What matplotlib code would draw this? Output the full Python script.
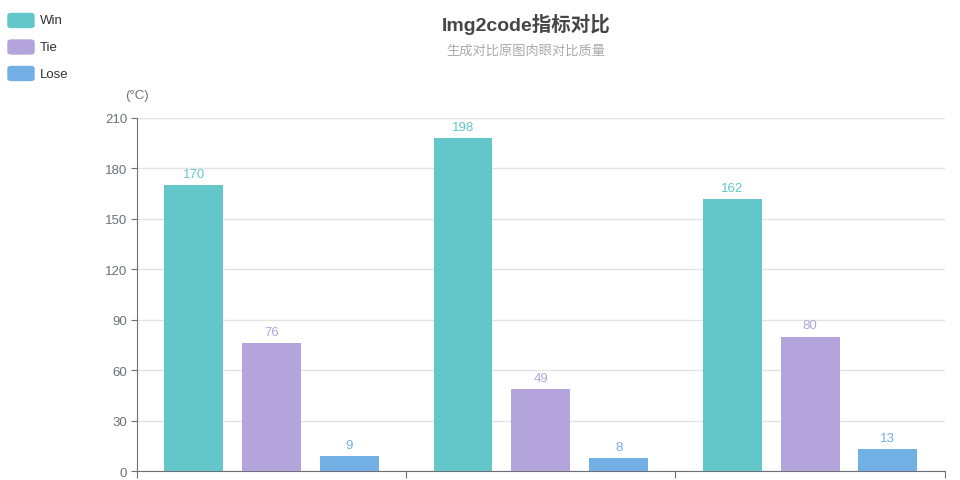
import matplotlib
matplotlib.use('Agg')
import matplotlib.pyplot as plt
import numpy as np
from matplotlib.patches import FancyBboxPatch

plt.rcParams['font.family'] = ['Liberation Sans', 'Noto Sans CJK SC', 'DejaVu Sans']

# data
categories = ['', '', '']
series = ['Win', 'Tie', 'Lose']
win = [170, 198, 162]
tie = [76, 49, 80]
lose = [9, 8, 13]
colors = ['#63c6c8', '#b3a5db', '#72afe4']
yticks = [0, 30, 60, 90, 120, 150, 180, 210]

fig = plt.figure(figsize=(9.6, 4.81), dpi=100)
ax = fig.add_axes([0.1427, 0.0187, 0.8413, 0.7339])

x = np.arange(len(categories))
w = 0.219
offs = [-0.289, 0, 0.289]
for vals, off, c in zip([win, tie, lose], offs, colors):
    bars = ax.bar(x + off, vals, width=w, color=c, zorder=3)
    for b, v in zip(bars, vals):
        ax.text(b.get_x() + b.get_width() / 2, v + 3, str(v), ha='center', va='bottom',
                color=c, fontsize=9.5, zorder=4)

ax.set_xlim(-0.5, 2.5)
ax.set_ylim(0, 210)
ax.set_yticks(yticks)
ax.set_xticks([-0.5, 0.5, 1.5, 2.5])
ax.set_xticklabels([])
ax.tick_params(axis='x', length=5, color='#6e7079', direction='out')
ax.tick_params(axis='y', length=4, color='#6e7079', labelcolor='#6e7079', labelsize=9.5, pad=3)
ax.grid(axis='y', color='#e3e3e3', linewidth=1, zorder=0)
for s in ['top', 'right']:
    ax.spines[s].set_visible(False)
ax.spines['left'].set_color('#6e7079')
ax.spines['bottom'].set_color('#6e7079')

fig.text(137 / 960, 1 - 96 / 481, '(°C)', ha='center', va='center', color='#6e7079', fontsize=9.5)

# title
fig.text(526 / 960, 1 - 24 / 481, 'Img2code指标对比', ha='center', va='center',
         fontsize=14, fontweight='bold', color='#464646')
fig.text(526 / 960, 1 - 52 / 481, '生成对比原图肉眼对比质量', ha='center', va='center',
         fontsize=9.5, color='#aaaaaa')

# legend
for i, (name, c) in enumerate(zip(series, colors)):
    yc = 21.5 + i * 26.5
    fig.patches.append(FancyBboxPatch((8 / 960, 1 - (yc + 7) / 481), 26 / 960, 14 / 481,
                                      boxstyle='round,pad=0,rounding_size=0.004',
                                      transform=fig.transFigure, color=c))
    fig.text(40 / 960, 1 - yc / 481, name, ha='left', va='center', fontsize=9.5, color='#333333')

fig.savefig('out.png', dpi=100)
